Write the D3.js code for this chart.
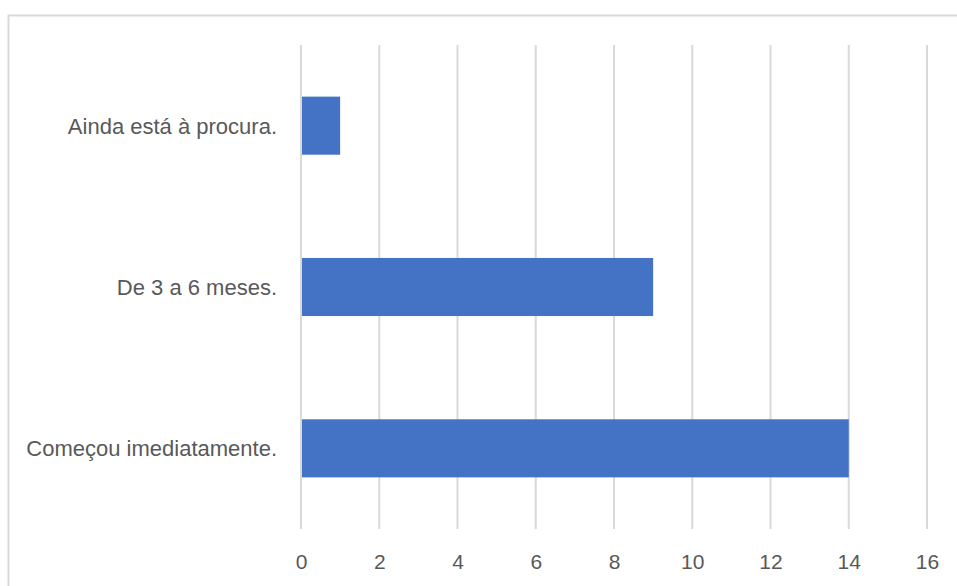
<!DOCTYPE html>
<html>
<head>
<meta charset="utf-8">
<script src="https://cdn.jsdelivr.net/npm/d3@7"></script>
<style>
  body { margin: 0; background: #fff; }
  svg { display: block; font-family: Lato, "Open Sans", sans-serif; }
</style>
</head>
<body>
<svg width="957" height="586"></svg>
<script>
// data
const categories = ['Ainda está à procura.', 'De 3 a 6 meses.', 'Começou imediatamente.'];
const values = [1, 9, 14];
const xTicks = [0, 2, 4, 6, 8, 10, 12, 14, 16];

const svg = d3.select('svg');
const width = parseFloat(svg.attr('width'));
const height = parseFloat(svg.attr('height'));

// chart frame, runs off the right and bottom edge
svg.append('rect')
  .attr('x', 8.5)
  .attr('y', 15.5)
  .attr('width', width)
  .attr('height', height)
  .attr('fill', 'none')
  .attr('stroke', '#d9d9d9')
  .attr('stroke-width', 2);

const plotLeft = 301, plotRight = 927, plotTop = 45, plotBottom = 529;

const x = d3.scaleLinear().domain([0, 16]).range([plotLeft, plotRight]);
const y = d3.scaleBand().domain(categories).range([plotTop, plotBottom]).paddingInner(0.64).paddingOuter(0.32);

// gridlines
svg.append('g')
  .selectAll('line')
  .data(xTicks)
  .join('line')
    .attr('x1', d => x(d))
    .attr('x2', d => x(d))
    .attr('y1', plotTop)
    .attr('y2', plotBottom)
    .attr('stroke', '#d9d9d9')
    .attr('stroke-width', 2);

// bars
svg.append('g')
  .selectAll('rect')
  .data(values)
  .join('rect')
    .attr('x', x(0) + 1)
    .attr('y', (d, i) => y(categories[i]))
    .attr('width', d => x(d) - x(0) - 1)
    .attr('height', y.bandwidth())
    .attr('fill', '#4472c4');

// x axis labels
const xAxis = svg.append('g')
  .attr('transform', `translate(0, 569)`)
  .call(d3.axisBottom(x).tickValues(xTicks).tickSize(0).tickPadding(0));
xAxis.select('.domain').remove();
xAxis.selectAll('text')
  .attr('y', 0)
  .attr('dy', 0)
  .attr('fill', '#595959')
  .style('font-size', '21px');

// category labels
const yAxis = svg.append('g')
  .attr('transform', `translate(${plotLeft - 24}, 0)`)
  .call(d3.axisLeft(y).tickSize(0).tickPadding(0));
yAxis.select('.domain').remove();
yAxis.selectAll('text')
  .attr('dy', '0.36em')
  .attr('fill', '#595959')
  .style('font-size', '22px');
</script>
</body>
</html>
